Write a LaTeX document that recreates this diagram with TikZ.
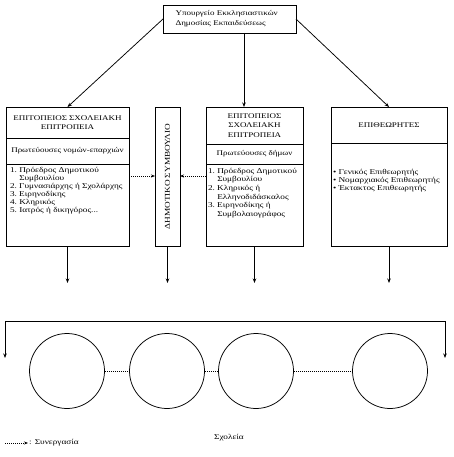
\documentclass[tikz,border=0pt]{standalone}
\usepackage{fontspec}
\usepackage{graphicx}
\setmainfont[FakeStretch=1.25]{Liberation Serif}
\usetikzlibrary{positioning, arrows.meta, calc}

\newcommand{\listtext}[3]{\begin{minipage}[c][#1][t]{#2}\vspace*{3pt}#3\end{minipage}}

\begin{document}
\begin{tikzpicture}[x=1pt, y=-1pt,
    box/.style={draw, line width=0.75pt, inner sep=0pt, outer sep=0pt, align=center},
    captext/.style={font=\fontsize{7.2}{9.6}\selectfont},
    smalltext/.style={font=\fontsize{7.4}{8}\selectfont},
    arr/.style={-{Stealth[length=4.5pt, width=3.5pt]}, line width=0.75pt},
    coop/.style={-{Stealth[length=4pt, width=3pt]}, line width=0.75pt, dash pattern=on 1.2pt off 0.8pt},
    coopline/.style={line width=0.75pt, dash pattern=on 1.2pt off 0.8pt},
    school/.style={circle, draw, line width=0.75pt, minimum size=75pt, inner sep=0pt}]
  \useasboundingbox (0,0) rectangle (453,457);

  % ministry
  \node[box, minimum width=133pt, minimum height=28pt, text width=108pt, align=left,
        font=\fontsize{7.2}{10}\selectfont] (min) at (229.5,19)
    {Υπουργείο Εκκλησιαστικών\\Δημοσίας Εκπαιδεύσεως};

  % local school committee, prefecture capitals
  \node[box, captext, minimum width=123pt, minimum height=31pt] (ltitle) at (67.5,122.5)
    {ΕΠΙΤΟΠΕΙΟΣ ΣΧΟΛΕΙΑΚΗ\\ΕΠΙΤΡΟΠΕΙΑ};
  \node[box, captext, minimum width=123pt, minimum height=26pt, below=0pt of ltitle] (lsub)
    {Πρωτεύουσες νομών-επαρχιών};
  \node[box, smalltext, minimum width=123pt, below=0pt of lsub] (llist)
    {\listtext{82pt}{115pt}{\begin{tabular}{@{}l@{~}l@{}}
      1. & Πρόεδρος Δημοτικού\\
         & Συμβουλίου\\
      2. & Γυμνασιάρχης ή Σχολάρχης\\
      3. & Ειρηνοδίκης\\
      4. & Κληρικός\\
      5. & Ιατρός ή δικηγόρος...
    \end{tabular}}};

  % municipal council
  \node[box, minimum width=25pt, minimum height=139pt] (dimos) at (167.5,176.5)
    {\rotatebox{90}{\fontsize{7.4}{9}\selectfont ΔΗΜΟΤΙΚΟ ΣΥΜΒΟΥΛΙΟ}};

  % local school committee, municipalities
  \node[box, captext, minimum width=97pt, minimum height=37pt] (mtitle) at (254.5,125.5)
    {ΕΠΙΤΟΠΕΙΟΣ\\ΣΧΟΛΕΙΑΚΗ\\ΕΠΙΤΡΟΠΕΙΑ};
  \node[box, captext, minimum width=97pt, minimum height=20pt, below=0pt of mtitle] (msub)
    {Πρωτεύουσες δήμων};
  \node[box, smalltext, minimum width=97pt, below=0pt of msub] (mlist)
    {\listtext{82pt}{93pt}{\fontsize{7.4}{8.7}\selectfont\begin{tabular}{@{}l@{~}l@{}}
      1. & Πρόεδρος Δημοτικού\\
         & Συμβουλίου\\
      2. & Κληρικός ή\\
         & Ελληνοδιδάσκαλος\\
      3. & Ειρηνοδίκης ή\\
         & Συμβολαιογράφος
    \end{tabular}}};

  % inspectors
  \node[box, captext, minimum width=116pt, minimum height=36pt] (rtitle) at (389,125)
    {ΕΠΙΘΕΩΡΗΤΕΣ};
  \node[box, smalltext, minimum width=116pt, below=0pt of rtitle] (rbody)
    {\listtext{103pt}{112pt}{\vspace*{23pt}\begin{tabular}{@{}l@{}}
      • Γενικός Επιθεωρητής\\
      • Νομαρχιακός Επιθεωρητής\\
      • Έκτακτος Επιθεωρητής
    \end{tabular}}};

  % from the ministry
  \coordinate (mtop) at ([xshift=14.5pt]min.south);
  \draw[arr] (min.west) -- (ltitle.north);
  \draw[arr] (mtop) -- (mtop |- mtitle.north);
  \draw[arr] (min.east) -- (rtitle.north);

  % cooperation with the council
  \coordinate (lc) at ([yshift=-12pt]llist.north east);
  \coordinate (mc) at ([yshift=-12pt]mlist.north west);
  \draw[coop] (lc) -- (lc -| dimos.west);
  \draw[coop] (mc) -- (mc -| dimos.east);

  % down to the schools
  \coordinate (bar) at (0,283);
  \foreach \n in {llist, dimos, mlist, rbody}
    \draw[arr] (\n.south) -- (\n.south |- bar);

  \coordinate (bl) at (5,358);
  \coordinate (tl) at (5,321);
  \coordinate (tr) at (445,321);
  \coordinate (br) at (445,358);
  \draw[{Stealth[length=4.5pt, width=3.5pt]}-{Stealth[length=4.5pt, width=3.5pt]}, line width=0.75pt]
    (bl) -- (tl) -- (tr) -- (br);

  \foreach \n/\x in {s1/67, s2/167, s3/256, s4/390}
    \node[school] (\n) at (\x,371) {};
  \draw[coopline] (s1) -- (s2);
  \draw[coopline] (s2) -- (s3);
  \draw[coopline] (s3) -- (s4);

  \node[smalltext] (schools) at (229,438) {Σχολεία};

  % legend
  \coordinate (leg) at (5,443);
  \node[smalltext, anchor=west, inner sep=1pt] (legtxt) at (28,443) {: Συνεργασία};
  \draw[coop] (leg) -- (legtxt.west);
\end{tikzpicture}
\end{document}
